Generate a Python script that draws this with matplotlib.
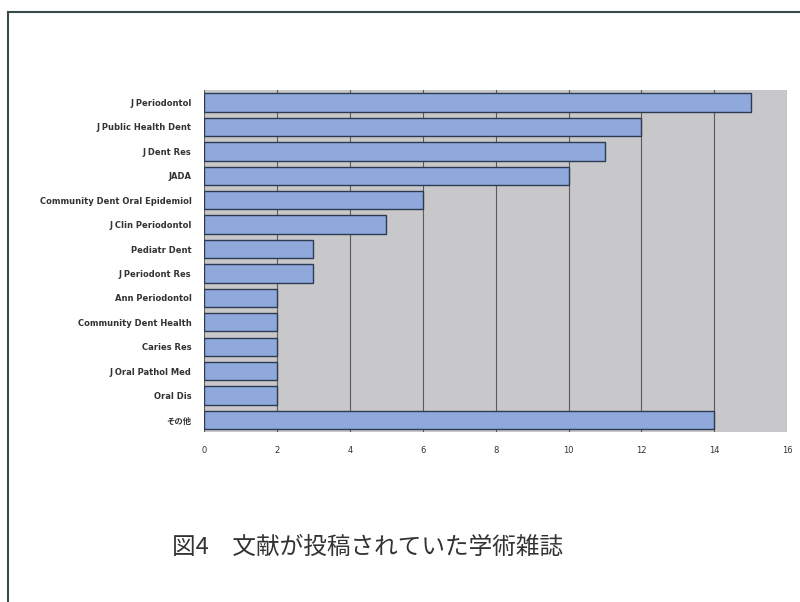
import matplotlib

matplotlib.use("Agg")
import matplotlib.pyplot as plt

plt.rcParams["font.family"] = ["Noto Sans CJK JP", "DejaVu Sans"]

journals = [
    "J Periodontol",
    "J Public Health Dent",
    "J Dent Res",
    "JADA",
    "Community Dent Oral Epidemiol",
    "J Clin Periodontol",
    "Pediatr Dent",
    "J Periodont Res",
    "Ann Periodontol",
    "Community Dent Health",
    "Caries Res",
    "J Oral Pathol Med",
    "Oral Dis",
    "その他",
]
counts = [15, 12, 11, 10, 6, 5, 3, 3, 2, 2, 2, 2, 2, 14]
x_ticks = [0, 2, 4, 6, 8, 10, 12, 14, 16]
caption = "図4　文献が投稿されていた学術雑誌"

fig = plt.figure(figsize=(8, 6.02), dpi=100)
ax = fig.add_axes([0.255, 0.282, 0.729, 0.568])

# outer frame of the scanned figure
fig.add_artist(plt.Line2D([0.01, 1.0], [0.98, 0.98], color="#3a4a4a", lw=1.5))
fig.add_artist(plt.Line2D([0.01, 0.01], [0.0, 0.98], color="#3a4a4a", lw=1.5))

ax.set_facecolor("#c8c8ca")
ax.barh(range(len(journals)), counts, height=0.75, color="#8fa9dc",
        edgecolor="#2e3a50", linewidth=1.0, zorder=3)
ax.set_xlim(0, 16)
ax.set_ylim(len(journals) - 0.5, -0.5)
ax.set_xticks(x_ticks)
ax.set_xticklabels([str(t) for t in x_ticks], fontsize=6, color="#333333",
                   family=["DejaVu Sans", "Noto Sans CJK JP"])
ax.set_yticks(range(len(journals)))
ax.set_yticklabels(journals, fontsize=6, fontweight="bold", color="#333333",
                   family=["DejaVu Sans", "Noto Sans CJK JP"])
ax.tick_params(axis="y", length=0, pad=9)
ax.tick_params(axis="x", length=0, pad=10)
ax.grid(axis="x", color="#5a5a5a", lw=0.8, zorder=1)
for s in ax.spines.values():
    s.set_visible(False)

fig.text(0.215, 0.09, caption, fontsize=17, color="#333333", va="center")

fig.savefig("out.png", dpi=100)
plt.close(fig)
